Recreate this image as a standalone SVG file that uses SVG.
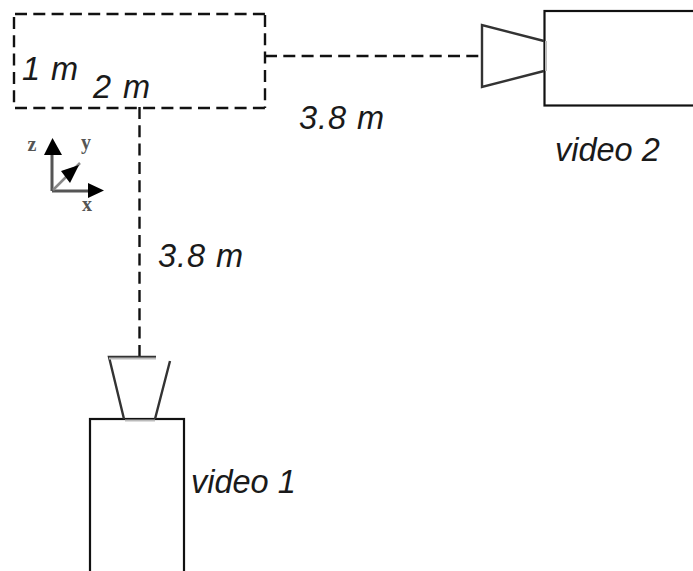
<svg xmlns="http://www.w3.org/2000/svg" width="693" height="571" viewBox="0 0 693 571">
<style>
.bg{fill:#fff}
.solid{fill:none;stroke:#111;stroke-width:2.200}
.lens{fill:none;stroke:#333;stroke-width:2.400}
.lensedge{fill:none;stroke:#bbb;stroke-width:2}
.dash{fill:none;stroke:#111;stroke-width:2.400;stroke-dasharray:12 6.3}
.t{font-family:"Liberation Sans",Arial,sans-serif;font-style:italic;font-size:32.5px;fill:#1a1a1a}
.axis{fill:none;stroke:#555;stroke-width:3}
.axis2{fill:none;stroke:#888;stroke-width:2.500}
.tip{fill:#000}
.ax{font-family:"Liberation Serif","Times New Roman",serif;font-size:20px;fill:#555;text-anchor:middle;font-weight:bold}
</style>
<rect class="bg" width="693" height="571"/>
<g id="connectors">
<path class="dash" d="M265 56H481"/>
<path class="dash" d="M139.500 107V357"/>
</g>
<g id="region">
<path class="dash" d="M15 14H266"/>
<path class="dash" d="M15 108H266"/>
<path class="dash" d="M14 17V108"/>
<path class="dash" d="M265 15V108"/>
<text class="t" x="22" y="80" textLength="56">1 m</text>
<text class="t" x="93" y="98" textLength="57">2 m</text>
</g>
<g id="label-horizontal"><text class="t" x="299" y="129" textLength="85">3.8 m</text></g>
<g id="label-vertical"><text class="t" x="158" y="267" textLength="85">3.8 m</text></g>
<g id="axes">
<path class="axis" d="M52 191V150M52 191H90"/>
<path class="axis2" d="M53 190L80 163"/>
<path class="tip" d="M52.500 138L62 155H44ZM104 190.500L88 183V198ZM79 165L70 183L61 171Z"/>
<text class="ax" x="32" y="151">z</text>
<text class="ax" x="86" y="149">y</text>
<text class="ax" x="87" y="211">x</text>
</g>
<g id="video2">
<rect class="solid" x="544.500" y="11" width="150" height="94.500"/>
<path class="lens" d="M544 41L482 25V87L544 71"/>
<path class="lensedge" d="M546 41V71"/>
<text class="t" x="555" y="161">video 2</text>
</g>
<g id="video1">
<rect class="solid" x="90" y="419" width="94" height="154"/>
<path class="lens" d="M124 419L109 357H156M170 361L155 419"/>
<path class="lensedge" d="M125 420.500H155M109 358.500H156"/>
<text class="t" x="191" y="493">video 1</text>
</g>
</svg>
